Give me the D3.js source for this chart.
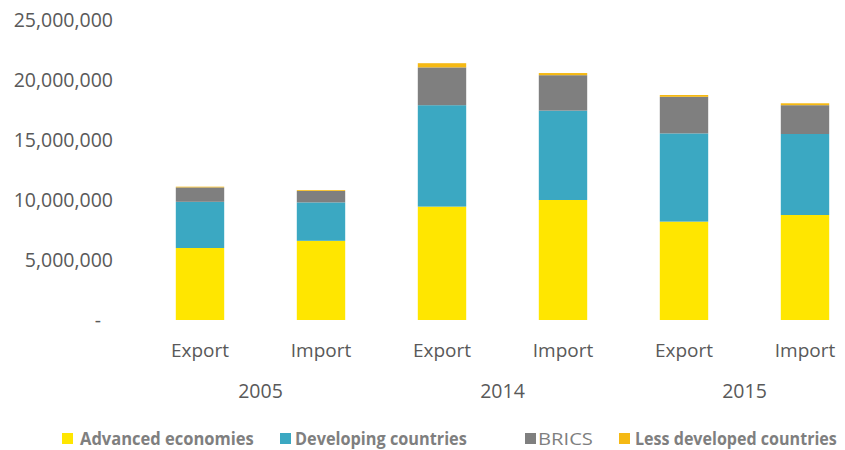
<!DOCTYPE html>
<html>
<head>
<meta charset="utf-8">
<script src="https://cdn.jsdelivr.net/npm/d3@7"></script>
<style>
  html, body { margin: 0; padding: 0; background: #fff; }
  svg { display: block; }
  text { font-family: "Open Sans", "DejaVu Sans", sans-serif; }
</style>
</head>
<body>
<svg id="chart" width="845" height="450"></svg>
<script>
// Trade by partner group, stacked per year and flow
const years = ["2005", "2014", "2015"];
const flows = ["Export", "Import"];
const categories = ["2005|Export", "2005|Import", "2014|Export", "2014|Import", "2015|Export", "2015|Import"];

const advancedEconomies   = [6000000, 6600000, 9450000, 10000000, 8200000, 8750000];
const developingCountries = [3850000, 3200000, 8450000, 7450000, 7350000, 6750000];
const brics               = [1200000,  950000, 3150000, 2950000, 3050000, 2400000];
const lessDeveloped       = [  60000,   70000,  350000,  180000,  150000,  160000];

const seriesNames = ["Advanced economies", "Developing countries", "BRICS", "Less developed countries"];
const seriesColors = ["#ffe600", "#3ba8c2", "#7f7f7f", "#f5b914"];
const yTicks = [0, 5000000, 10000000, 15000000, 20000000, 25000000];

const rows = categories.map((c, i) => ({
  key: c,
  "Advanced economies": advancedEconomies[i],
  "Developing countries": developingCountries[i],
  "BRICS": brics[i],
  "Less developed countries": lessDeveloped[i]
}));

const svg = d3.select("#chart");

const x = d3.scaleBand()
  .domain(categories)
  .range([139.5, 865.5])
  .paddingInner(0.6)
  .paddingOuter(0.3);

const y = d3.scaleLinear()
  .domain([0, 25000000])
  .range([320, 20]);

const stacked = d3.stack().keys(seriesNames)(rows);

// Y axis labels (no line, no ticks)
const yAxis = d3.axisLeft(y)
  .tickValues(yTicks)
  .tickSize(0)
  .tickPadding(0)
  .tickFormat(d => d === 0 ? "-" : d3.format(",")(d));

const yg = svg.append("g")
  .attr("transform", "translate(113,0)")
  .call(yAxis);
yg.select(".domain").remove();
yg.selectAll("text")
  .attr("fill", "#595959")
  .style("font-size", "19.5px")
  .style("font-family", "'Open Sans', sans-serif");
yg.selectAll(".tick").filter(d => d === 0).select("text")
  .attr("dx", "-12");

// Stacked bars
svg.append("g")
  .selectAll("g")
  .data(stacked)
  .join("g")
  .attr("fill", (d, i) => seriesColors[i])
  .selectAll("rect")
  .data(d => d)
  .join("rect")
  .attr("x", d => x(d.data.key))
  .attr("width", x.bandwidth())
  .attr("y", d => y(d[1]))
  .attr("height", d => y(d[0]) - y(d[1]));

// Flow labels under each bar
const xAxis = d3.axisBottom(x)
  .tickSize(0)
  .tickPadding(0)
  .tickFormat(d => d.split("|")[1]);

const xg = svg.append("g")
  .attr("transform", "translate(0,343)")
  .call(xAxis);
xg.select(".domain").remove();
xg.selectAll("text")
  .attr("fill", "#595959")
  .style("font-size", "19px")
  .style("font-family", "'Open Sans', sans-serif");

// Year labels centered under each pair of bars
svg.append("g")
  .selectAll("text")
  .data(years)
  .join("text")
  .attr("x", yr => (x(yr + "|" + flows[0]) + x(yr + "|" + flows[1]) + x.bandwidth()) / 2)
  .attr("y", 398)
  .attr("text-anchor", "middle")
  .attr("fill", "#595959")
  .style("font-size", "19.5px")
  .text(yr => yr);

// Legend: condensed labels, squeezed horizontally to a target width
const legendX = [62, 280, 525, 619];
const legendTextX = [80, 295, 538, 635];
const legendTextW = [174, 172, 55, 202];
const legend = svg.append("g")
  .selectAll("g")
  .data(seriesNames)
  .join("g");

legend.append("rect")
  .attr("x", (d, i) => legendX[i])
  .attr("y", 433)
  .attr("width", 11)
  .attr("height", 11)
  .attr("fill", (d, i) => seriesColors[i]);

legend.append("text")
  .attr("fill", "#7f7f7f")
  .style("font-weight", (d, i) => i === 2 ? "normal" : "bold")
  .style("font-size", "17px")
  .text(d => d)
  .each(function (d, i) {
    const natural = this.getComputedTextLength();
    const sx = legendTextW[i] / natural;
    d3.select(this).attr("transform", `translate(${legendTextX[i]},444.5) scale(${sx},1)`);
  });
</script>
</body>
</html>
